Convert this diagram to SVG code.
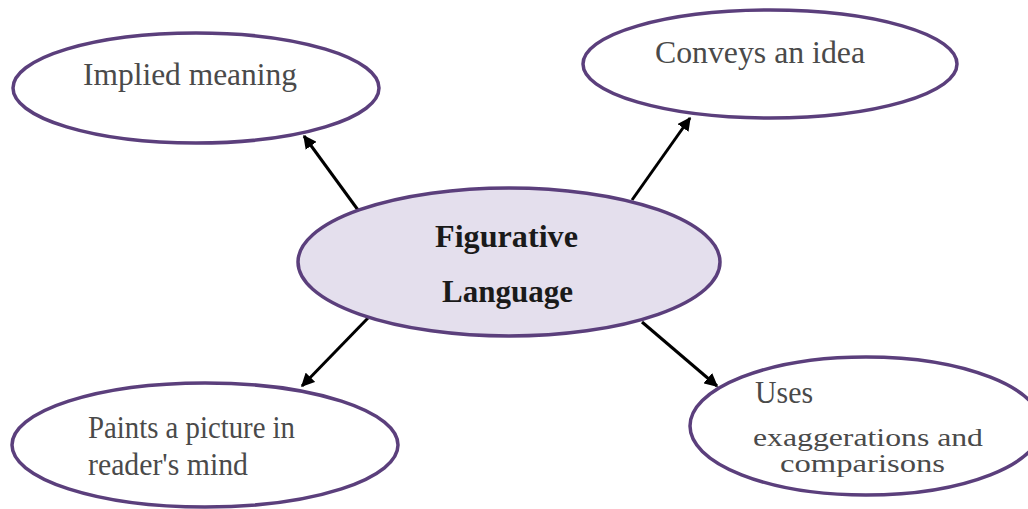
<svg xmlns="http://www.w3.org/2000/svg" width="1028" height="509" viewBox="0 0 1028 509">
<style>
.node ellipse{fill:#ffffff;stroke:#5b3f7c;stroke-width:3.5}
.node text{font-family:"Liberation Serif","Times New Roman",serif;font-size:31px;fill:#4a4a4a}
#center ellipse{fill:#e4dfed}
#center text{fill:#1a1a1a;font-weight:bold;font-size:32px}
#uses text.small{font-size:25px}
.conn line{stroke:#000;stroke-width:3}
</style>
<defs>
<marker id="ah" viewBox="0 0 10 10" refX="9" refY="5" markerWidth="4.5" markerHeight="4.5" orient="auto" markerUnits="strokeWidth">
<path d="M0,0 L10,5 L0,10 z" fill="#000"/>
</marker>
</defs>
<g id="connectors" class="conn">
<line x1="358" y1="210" x2="304" y2="136" marker-end="url(#ah)"/>
<line x1="632" y1="200" x2="690" y2="118" marker-end="url(#ah)"/>
<line x1="368" y1="318" x2="302" y2="386" marker-end="url(#ah)"/>
<line x1="642" y1="322" x2="717" y2="386" marker-end="url(#ah)"/>
</g>
<g id="implied" class="node">
<ellipse cx="196" cy="88" rx="183" ry="55"/>
<text x="83" y="85" textLength="214" lengthAdjust="spacingAndGlyphs">Implied meaning</text>
</g>
<g id="conveys" class="node">
<ellipse cx="770" cy="64" rx="187" ry="54"/>
<text x="655" y="63" textLength="210" lengthAdjust="spacingAndGlyphs">Conveys an idea</text>
</g>
<g id="center" class="node">
<ellipse cx="509" cy="262" rx="211" ry="74"/>
<text x="435" y="247" textLength="143" lengthAdjust="spacingAndGlyphs">Figurative</text>
<text x="442" y="302" textLength="131" lengthAdjust="spacingAndGlyphs">Language</text>
</g>
<g id="paints" class="node">
<ellipse cx="205" cy="445" rx="193" ry="62"/>
<text x="88" y="438" textLength="207" lengthAdjust="spacingAndGlyphs">Paints a picture in</text>
<text x="88" y="475" textLength="160" lengthAdjust="spacingAndGlyphs">reader's mind</text>
</g>
<g id="uses" class="node">
<ellipse cx="866" cy="426" rx="176" ry="69"/>
<text x="755" y="403" textLength="58" lengthAdjust="spacingAndGlyphs">Uses</text>
<text class="small" x="753" y="446" textLength="230" lengthAdjust="spacingAndGlyphs">exaggerations and</text>
<text class="small" x="780" y="472" textLength="165" lengthAdjust="spacingAndGlyphs">comparisons</text>
</g>
</svg>
